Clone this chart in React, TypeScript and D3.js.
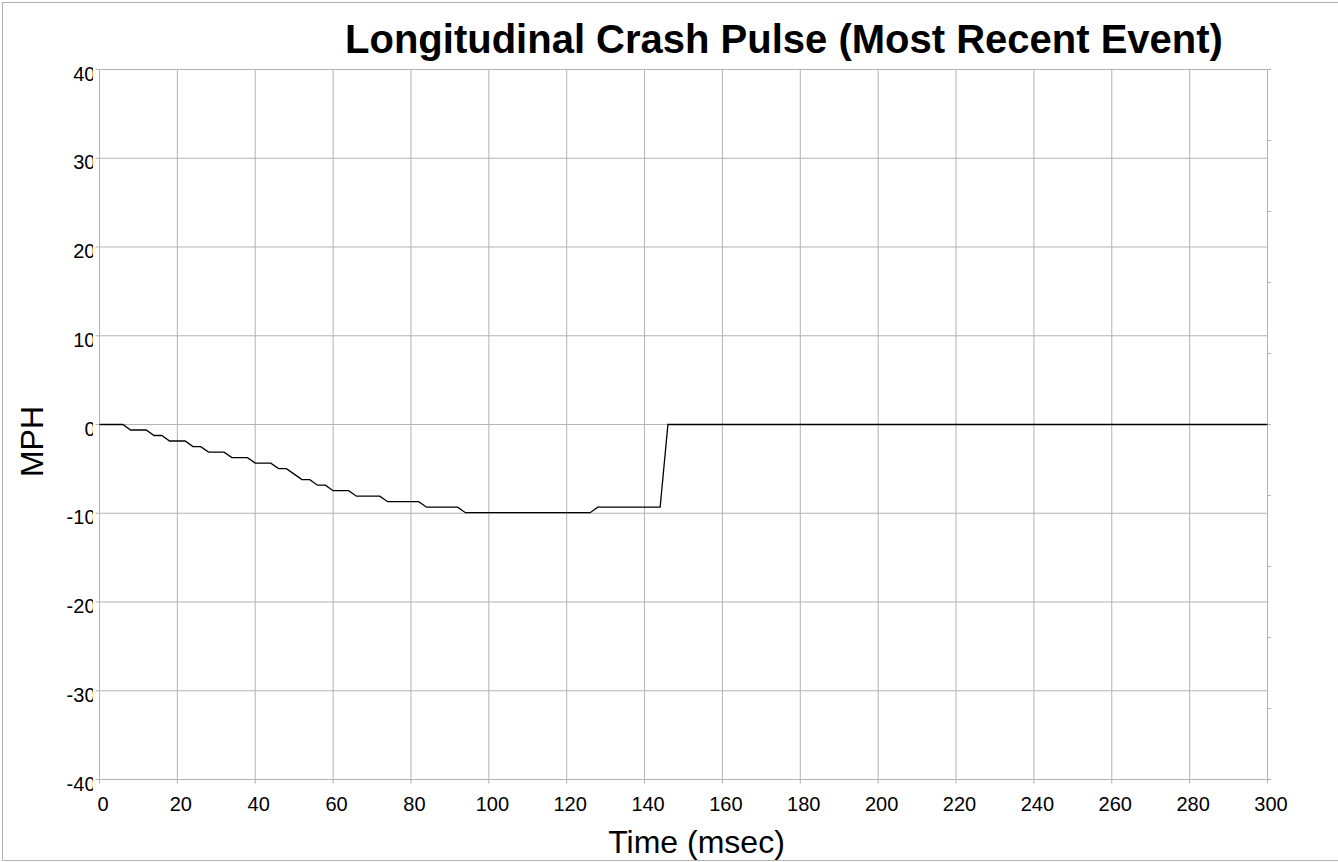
import React from "react";
import * as d3 from "d3";

const TITLE = "Longitudinal Crash Pulse (Most Recent Event)";
const X_TITLE = "Time (msec)";
const Y_TITLE = "MPH";

const timeMs: number[] = [
  0, 2, 4, 6, 8, 10, 12, 14, 16, 18, 20, 22, 24, 26, 28, 30, 32, 34, 36, 38,
  40, 42, 44, 46, 48, 50, 52, 54, 56, 58, 60, 62, 64, 66, 68, 70, 72, 74, 76, 78,
  80, 82, 84, 86, 88, 90, 92, 94, 96, 98, 100, 102, 104, 106, 108, 110, 112, 114, 116, 118,
  120, 122, 124, 126, 128, 130, 132, 134, 136, 138, 140, 142, 144, 146, 300,
];

const mph: number[] = [
  0, 0, 0, 0, -0.62, -0.62, -0.62, -1.24, -1.24, -1.86, -1.86, -1.86, -2.49, -2.49, -3.11, -3.11, -3.11, -3.73, -3.73, -3.73,
  -4.35, -4.35, -4.35, -4.97, -4.97, -5.59, -6.21, -6.21, -6.84, -6.84, -7.46, -7.46, -7.46, -8.08, -8.08, -8.08, -8.08, -8.7, -8.7, -8.7,
  -8.7, -8.7, -9.32, -9.32, -9.32, -9.32, -9.32, -9.94, -9.94, -9.94, -9.94, -9.94, -9.94, -9.94, -9.94, -9.94, -9.94, -9.94, -9.94, -9.94,
  -9.94, -9.94, -9.94, -9.94, -9.32, -9.32, -9.32, -9.32, -9.32, -9.32, -9.32, -9.32, -9.32, 0, 0,
];

const xTicks: number[] = [0, 20, 40, 60, 80, 100, 120, 140, 160, 180, 200, 220, 240, 260, 280, 300];
const yTicks: number[] = [40, 30, 20, 10, 0, -10, -20, -30, -40];
const yTickLabels: string[] = ["40", "30", "20", "10", "0", "-10", "-20", "-30", "-40"];

const W = 1338;
const H = 862;
const L = 99.5;
const R = 1267.5;
const T = 69.5;
const B = 779.5;
const FONT = "Arial, 'Liberation Sans', sans-serif";
const GRID = "#b3b3b3";

export default function App() {
  const x = d3.scaleLinear().domain([0, 300]).range([L, R]);
  const y = d3.scaleLinear().domain([-40, 40]).range([B, T]);
  const yRight = d3.scaleLinear().domain([0, 10]).range([B, T]);
  const rightTicks = yRight.ticks(10);

  const pts: [number, number][] = timeMs.map((t, i) => [t, mph[i]]);
  const line = d3
    .line<[number, number]>()
    .x((d) => x(d[0]))
    .y((d) => y(d[1]));

  return (
    <svg
      width={W}
      height={H}
      style={{ position: "absolute", left: 0, top: 0, background: "#fff" }}
    >
      <defs>
        <clipPath id="ylabclip" clipPathUnits="userSpaceOnUse">
          <rect x={0} y={0} width={93} height={H} />
        </clipPath>
      </defs>
      <rect x={2.5} y={2.5} width={W + 10} height={858} fill="#fff" stroke={GRID} strokeWidth={1} />

      <text
        x={784}
        y={52.5}
        textAnchor="middle"
        fontFamily={FONT}
        fontWeight="bold"
        fontSize={40}
        fill="#000"
      >
        {TITLE}
      </text>

      {xTicks.map((t) => (
        <line key={"gx" + t} x1={x(t)} x2={x(t)} y1={T} y2={B + 4} stroke={GRID} strokeWidth={1} />
      ))}
      {yTicks.map((t) => (
        <line key={"gy" + t} x1={L - 4} x2={R} y1={y(t)} y2={y(t)} stroke={GRID} strokeWidth={1} />
      ))}
      {rightTicks.map((t) => (
        <line key={"rt" + t} x1={R} x2={R + 3.5} y1={yRight(t)} y2={yRight(t)} stroke={GRID} strokeWidth={1} />
      ))}
      <rect x={L} y={T} width={R - L} height={B - T} fill="none" stroke={GRID} strokeWidth={1} />

      <path d={line(pts) || ""} fill="none" stroke="#000" strokeWidth={1.3} />

      {xTicks.map((t) => (
        <text
          key={"xl" + t}
          x={x(t) + 3.5}
          y={810.5}
          textAnchor="middle"
          fontFamily={FONT}
          fontSize={20}
          fill="#000"
        >
          {String(t)}
        </text>
      ))}

      <g clipPath="url(#ylabclip)">
        {yTicks.map((t, i) => (
          <text
            key={"yl" + t}
            x={95.5}
            y={y(t) + 11}
            textAnchor="end"
            fontFamily={FONT}
            fontSize={20}
            fill="#000"
          >
            {yTickLabels[i]}
          </text>
        ))}
      </g>

      <text
        x={696.5}
        y={853}
        textAnchor="middle"
        fontFamily={FONT}
        fontSize={32}
        fill="#000"
      >
        {X_TITLE}
      </text>
      <text
        transform={`translate(42.5, 441.5) rotate(-90)`}
        textAnchor="middle"
        fontFamily={FONT}
        fontSize={32}
        fill="#000"
      >
        {Y_TITLE}
      </text>
    </svg>
  );
}
